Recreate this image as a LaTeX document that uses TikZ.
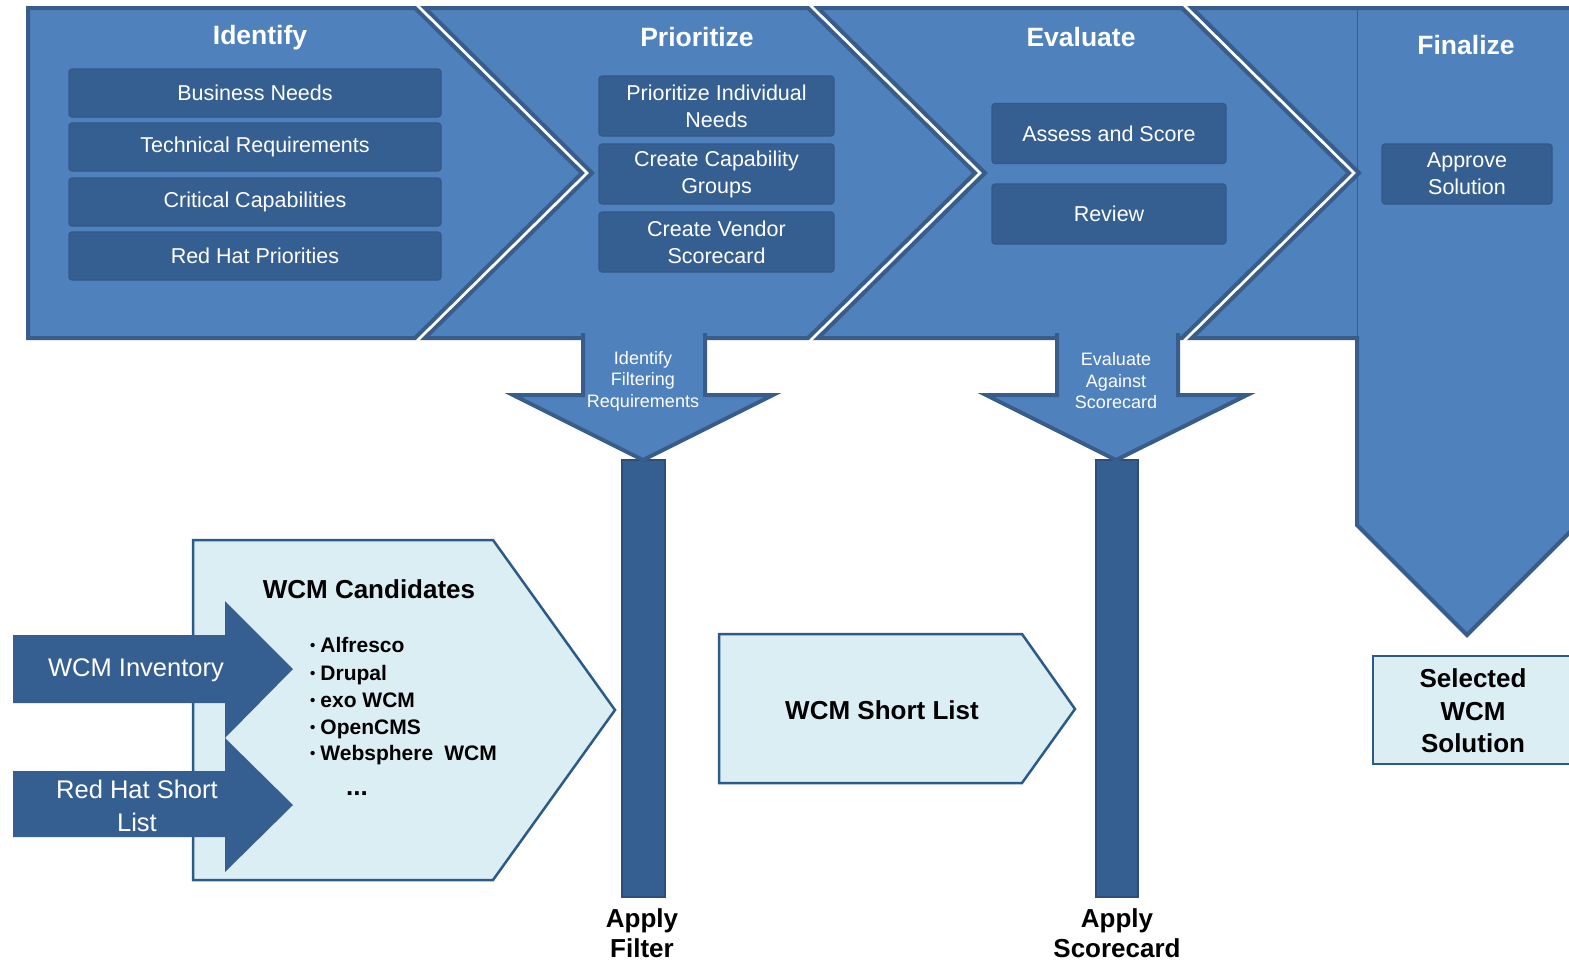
\documentclass[tikz,border=0pt]{standalone}
\usepackage{fontspec}
\setmainfont{Liberation Sans}
\definecolor{midblue}{HTML}{4F81BD}
\definecolor{darkborder}{HTML}{385D8A}
\definecolor{boxblue}{HTML}{365F91}
\definecolor{boxedge}{HTML}{33578A}
\definecolor{baredge}{HTML}{2B4E7C}
\definecolor{lightfill}{HTML}{DBEEF4}
\definecolor{lightedge}{HTML}{2B5B86}
\newcommand{\bul}{\raisebox{0.12ex}{\fontsize{15}{15}\selectfont\textbullet}\hspace{5pt}}
\tikzset{
  chev/.style={fill=midblue, draw=darkborder, line width=4pt, line join=miter},
  downarr/.style={fill=midblue, draw=darkborder, line width=4pt, line join=miter},
  barbox/.style={fill=boxblue, draw=baredge, line width=1.5pt},
  inbox/.style={fill=boxblue, draw=boxedge, line width=1.2pt, rounded corners=3pt, text=white, align=center, inner sep=0pt, font=\fontsize{21.5}{27}\selectfont},
  ttl/.style={text=white, font=\fontsize{26.5}{30}\selectfont\bfseries},
  arrlbl/.style={text=white, align=center, font=\fontsize{18}{21.5}\selectfont},
  lightshape/.style={fill=lightfill, draw=lightedge, line width=2.5pt, line join=miter},
  inarrow/.style={fill=boxblue},
  inlbl/.style={text=white, align=center, font=\fontsize{25.5}{33}\selectfont},
  blk/.style={text=black, align=center, font=\fontsize{26}{32.5}\selectfont\bfseries},
  bullt/.style={text=black, anchor=base west, inner sep=0pt, font=\fontsize{21}{25}\selectfont\bfseries},
}
\begin{document}
\begin{tikzpicture}[x=1pt, y=-1pt]
\clip (0,0) rectangle (1569,961);
\fill[white] (0,0) rectangle (1569,961);

% top chevrons
\draw[chev] (28,8) -- (415,8) -- (582,173) -- (415,338) -- (28,338) -- cycle;
\draw[chev] (425,8) -- (808,8) -- (975,173) -- (808,338) -- (425,338) -- (592,173) -- cycle;
\draw[chev] (818,8) -- (1182,8) -- (1349,173) -- (1182,338) -- (818,338) -- (985,173) -- cycle;
\draw[chev] (1192,8) -- (1577,8) -- (1577,525) -- (1467,635) -- (1357,525) -- (1357,338) -- (1192,338) -- (1359,173) -- cycle;
\draw[darkborder, line width=1pt] (1357,10) -- (1357,336);

% bars
\draw[barbox] (622,460) rectangle (665,897);
\draw[barbox] (1096,460) rectangle (1138,897);

% down arrows
\filldraw[downarr] (583,333) -- (583,395) -- (513,395) -- (643,460) -- (773,395) -- (705,395) -- (705,333);
\filldraw[downarr] (1057,333) -- (1057,395) -- (986,395) -- (1116,460) -- (1247,395) -- (1178,395) -- (1178,333);
\node[arrlbl] (afilt) at (643,381) {Identify\\Filtering\\Requirements};
\node[arrlbl] (aeval) at (1116,381) {Evaluate\\Against\\Scorecard};

% titles
\node[ttl] (tid) at (260,38) {Identify};
\node[ttl] (tpr) at (697,37) {Prioritize};
\node[ttl] (tev) at (1081,37) {Evaluate};
\node[ttl] (tfi) at (1466,45) {Finalize};

% inner boxes
\node[inbox, minimum width=372pt, minimum height=48pt] (b1) at (255,93) {Business Needs};
\node[inbox, minimum width=372pt, minimum height=48pt] (b2) at (255,147) {Technical Requirements};
\node[inbox, minimum width=372pt, minimum height=48pt] (b3) at (255,202) {Critical Capabilities};
\node[inbox, minimum width=372pt, minimum height=48pt] (b4) at (255,256) {Red Hat Priorities};

\node[inbox, minimum width=235pt, minimum height=60pt] (p1) at (716.5,106) {Prioritize Individual\\Needs};
\node[inbox, minimum width=235pt, minimum height=60pt] (p2) at (716.5,174) {Create Capability\\Groups};
\node[inbox, minimum width=235pt, minimum height=60pt] (p3) at (716.5,242) {Create Vendor\\Scorecard};

\node[inbox, minimum width=234pt, minimum height=60pt] (e1) at (1109,133.5) {Assess and Score};
\node[inbox, minimum width=234pt, minimum height=60pt] (e2) at (1109,214) {Review};

\node[inbox, minimum width=170pt, minimum height=60pt] (f1) at (1467,174) {Approve\\Solution};

% bottom left candidates
\draw[lightshape] (193,540) -- (493,540) -- (615,710) -- (493,880) -- (193,880) -- cycle;
\fill[inarrow] (13,635) -- (225,635) -- (225,601) -- (293,669) -- (225,738) -- (225,703) -- (13,703) -- cycle;
\fill[inarrow] (13,771) -- (225,771) -- (225,738) -- (293,805) -- (225,872) -- (225,837) -- (13,837) -- cycle;
\node[inlbl] (inv) at (136,670) {WCM Inventory};
\node[inlbl] (rhs) at (137,806) {Red Hat Short\\List};

\node[blk] (cand) at (369,589) {WCM Candidates};
\node[bullt] (c1) at (310,652) {\bul Alfresco};
\node[bullt] (c2) at (310,680) {\bul Drupal};
\node[bullt] (c3) at (310,707) {\bul exo WCM};
\node[bullt] (c4) at (310,734) {\bul OpenCMS};
\node[bullt] (c5) at (310,760) {\bul Websphere\hspace{0.25em} WCM};
\node[blk] (cdots) at (357,794) {...};

% short list
\draw[lightshape] (719,634) -- (1022,634) -- (1075,709) -- (1022,783) -- (719,783) -- cycle;
\node[blk] (short) at (882,710) {WCM Short List};

% selected
\draw[lightshape] (1373,656) rectangle (1600,764);
\node[blk] (sel) at (1473,711) {Selected\\WCM\\Solution};

% apply labels
\node[blk, font=\fontsize{26}{30}\selectfont\bfseries] (apf) at (642,933) {Apply\\Filter};
\node[blk, font=\fontsize{26}{30}\selectfont\bfseries] (aps) at (1117,933) {Apply\\Scorecard};
\end{tikzpicture}
\end{document}
